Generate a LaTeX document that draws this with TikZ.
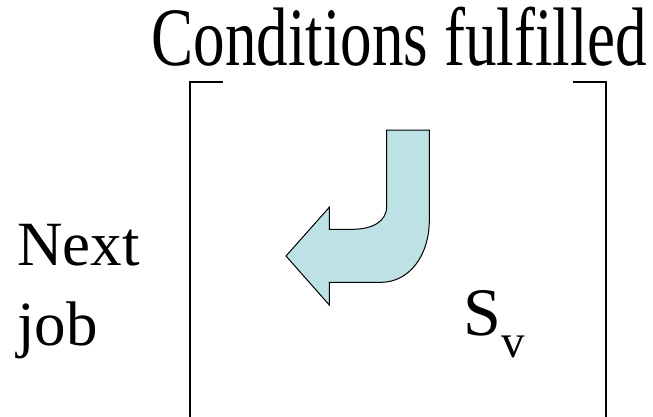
\documentclass[tikz,border=0pt]{standalone}
\usepackage{fontspec}
\setmainfont{Liberation Serif}
\usepackage{tikz}
\usetikzlibrary{positioning}

\definecolor{turnfill}{RGB}{189,225,228}

\begin{document}
\begin{tikzpicture}[
        x=1pt,
        y=-1pt,
        bracket/.style={line width=2.2pt, line cap=butt},
        turn/.style={draw=black, line width=1pt, fill=turnfill, line join=miter},
        label/.style={inner sep=0pt, anchor=base west}
    ]
        \useasboundingbox (0,0) rectangle (653,416);

        % Heading above the box.
        \node[inner sep=0pt, anchor=base] (cond) at (399.5,65)
            {\scalebox{0.76}[1]{\fontsize{83}{90}\selectfont Conditions fulfilled}};

        % Open box: two corner brackets running down past the bottom.
        \foreach \xa/\xb in {222.7/190,573/606} {
            \draw[bracket] (\xa,82) -- (\xb,82) -- (\xb,417);
        }

        % U-turn arrow.
        \draw[turn] (386.7,130) -- (429.3,130) -- (429.3,220)
            .. controls (429.3,256) and (409,282.3) .. (381,282.3)
            -- (329.3,282.3) -- (329.3,305) -- (286,256) -- (329.3,207.3)
            -- (329.3,229.3) -- (352,229.3)
            .. controls (372,229.3) and (386.7,222) .. (386.7,206) -- cycle;

        % Side texts.
        \node[label, align=left, font={\fontsize{63}{80}\selectfont}] (next) at (17,345)
            {Next\\job};
        \node[label, font={\fontsize{68}{80}\selectfont}] (sv) at (463,335)
            {S\raisebox{-22pt}{\fontsize{47}{50}\selectfont v}};
    \end{tikzpicture}
\end{document}
